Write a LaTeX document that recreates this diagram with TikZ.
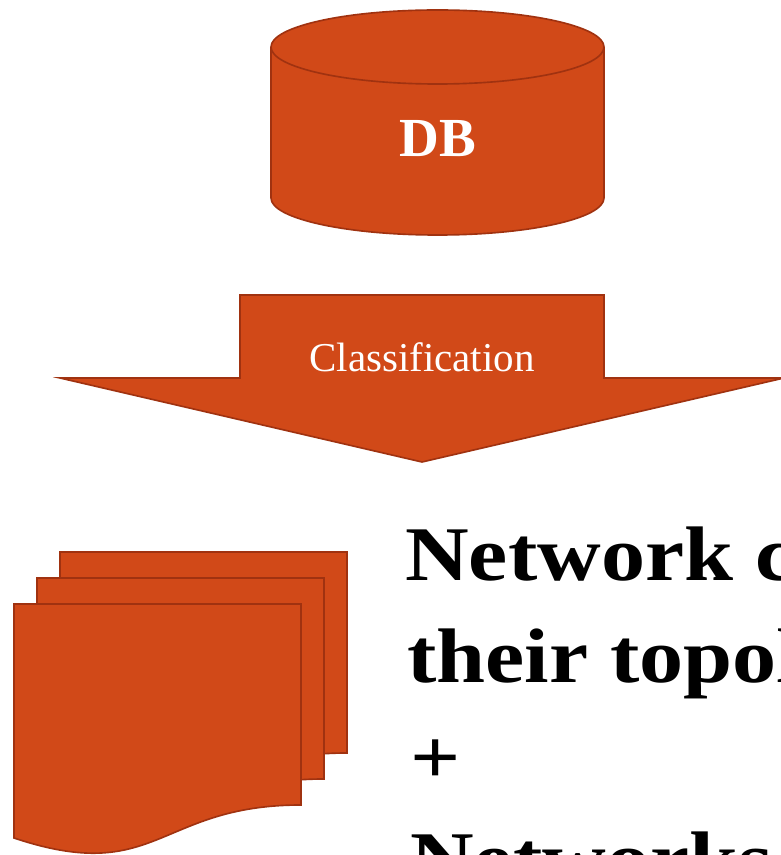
\documentclass[tikz,border=0pt]{standalone}
\usepackage{fontspec}
\setmainfont{Liberation Serif}
\newfontfamily\widefont{Liberation Serif}[FakeStretch=1.14]
\definecolor{rust}{RGB}{209,73,24}
\definecolor{rustedge}{RGB}{160,50,16}
\tikzset{
	shapefill/.style={fill=rust, draw=rustedge, line width=1.4pt, line join=miter},
	bigline/.style={anchor=base west, inner sep=0pt, font=\widefont\fontsize{66}{80}\selectfont\bfseries},
}
\begin{document}
\begin{tikzpicture}[x=0.03cm, y=0.03cm]
	\useasboundingbox (0,0) rectangle (781,855);
	% database
	\draw[shapefill] (271,808) -- (271,657) arc[start angle=180, end angle=360, x radius=166.5, y radius=37] -- (604,808) arc[start angle=0, end angle=180, x radius=166.5, y radius=37] -- cycle;
	\draw[rustedge, line width=1.4pt] (271,808) arc[start angle=180, end angle=360, x radius=166.5, y radius=37];
	\node (DB) at (437.5,698) [anchor=base, text=white, font=\fontsize{47}{50}\selectfont\bfseries] {DB};
	% big arrow
	\draw[shapefill] (240,560) -- (604,560) -- (604,477) -- (784,477) -- (422,393) -- (60,477) -- (240,477) -- cycle;
	\node (cls) at (422,483) [anchor=base, text=white, font=\fontsize{35}{40}\selectfont] {Classification};
	% stacked documents
	\foreach \px/\py in {60/303, 37/277, 14/251}
		\draw[shapefill] (\px,\py) -- ({\px+287},\py) -- ({\px+287},{\py-201}) .. controls ({\px+143.5},{\py-201}) and ({\px+143.5},{\py-282}) .. (\px,{\py-234}) -- cycle;
	% text
	\node (L1) at (405,274) [bigline] {Network c};
	\node (L2) at (407,172) [bigline] {their topol};
	\node (L3) at (410,71)  [bigline] {+};
	\node (L4) at (410,-31) [bigline] {Networks};
\end{tikzpicture}
\end{document}
